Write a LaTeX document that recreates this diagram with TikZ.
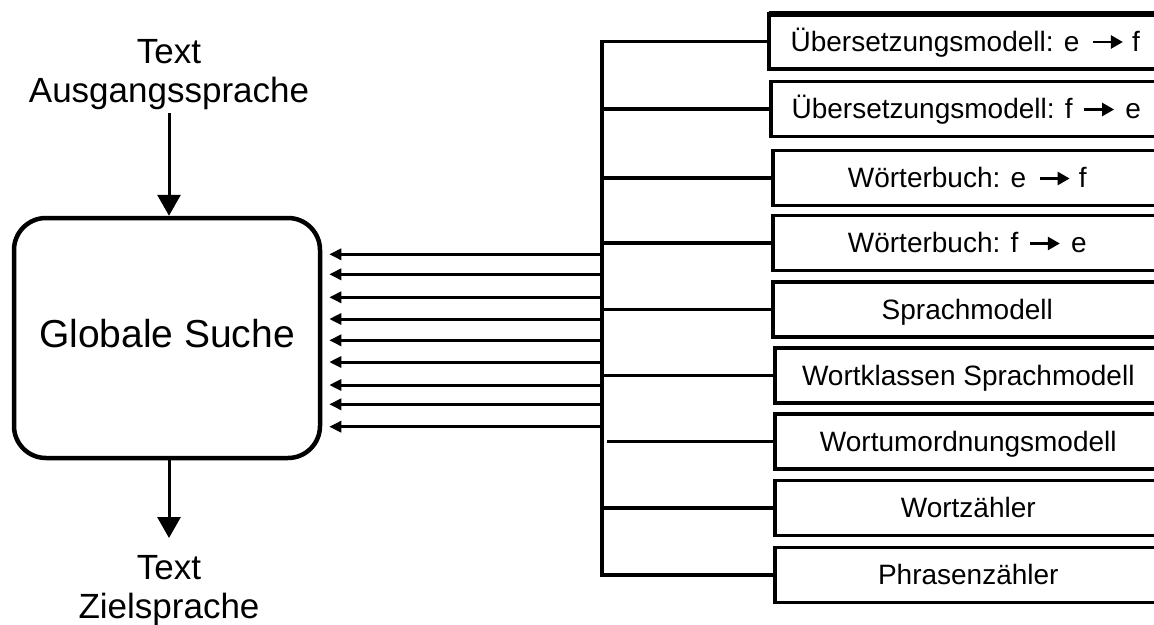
\documentclass[tikz,border=0pt]{standalone}
\usepackage{fontspec}
\setmainfont{Liberation Sans}
\usetikzlibrary{arrows.meta}

% small right arrow used inside the model labels, built once in a box
\newsavebox\modarrowbox
\sbox\modarrowbox{\tikz[x=1pt,y=1pt,baseline=-9pt]\draw[line width=2.6pt,-{Triangle[length=12pt,width=13pt]}] (0,0) -- (30,0);}
\newcommand\modarrow{\usebox\modarrowbox}

\begin{document}
\begin{tikzpicture}[x=1pt,y=-1pt,
  wire/.style={line width=3.8pt,line join=miter},
  bigarrow/.style={line width=3pt,-{Triangle[length=21pt,width=23pt]}},
  feed/.style={line width=3pt,-{Triangle[length=12pt,width=11pt]},shorten >=7pt},
  search/.style={draw,line width=4.5pt,rounded corners=32pt,minimum width=306pt,minimum height=240pt,
    inner sep=0pt,text depth=10pt,font=\fontsize{39}{45}\selectfont},
  iolabel/.style={align=center,font=\fontsize{35}{39}\selectfont},
  modbox/.style={anchor=west,minimum height=55pt,inner sep=0pt,outer sep=0pt,
    text height=25pt,text depth=6pt,font=\fontsize{28}{33}\selectfont},
  boxline/.style={line width=3.6pt,line join=miter}]

\useasboundingbox (0,0) rectangle (1154,624);
\coordinate (edge) at (1154,0);

% central search box with its input and output
\node[search] (gs) at (167,338) {Globale Suche};
\node[iolabel,anchor=south,inner sep=3pt] (src) at (169,113) {Text\\Ausgangssprache};
\node[iolabel,anchor=north,inner xsep=3pt,inner ysep=17pt] (dst) at (169,538) {Text\\Zielsprache};
\draw[bigarrow] (src.south) -- (src.south |- gs.north);
\draw[bigarrow] (dst.north |- gs.south) -- (dst.north);

% model boxes on the right; their right sides lie beyond the edge
\node[modbox,minimum width=393pt] (b1) at (768.8,41.5) {Übersetzungsmodell: e\hspace{12pt}\modarrow\hspace{8pt}f};
\node[modbox,minimum width=391pt] (b2) at (770.8,109) {Übersetzungsmodell: f\hspace{10pt}\modarrow\hspace{10pt}e};
\node[modbox,minimum width=389pt] (b3) at (772.8,178) {Wörterbuch: e\hspace{12pt}\modarrow\hspace{8pt}f};
\node[modbox,minimum width=389pt] (b4) at (772.8,243) {Wörterbuch: f\hspace{10pt}\modarrow\hspace{10pt}e};
\node[modbox,minimum width=389pt] (b5) at (772.8,309.5) {Sprachmodell};
\node[modbox,minimum width=387pt] (b6) at (774.8,375.5) {Wortklassen Sprachmodell};
\node[modbox,minimum width=387pt] (b7) at (774.8,441.5) {Wortumordnungsmodell};
\node[modbox,minimum width=387pt] (b8) at (774.8,508) {Wortzähler};
\node[modbox,minimum width=387pt] (b9) at (774.8,575) {Phrasenzähler};
\foreach \i in {1,...,9}
  \draw[boxline] (b\i.north -| edge) -- (b\i.north west) -- (b\i.south west) -- (b\i.south -| edge);
\draw[line width=5.5pt] (b1.north west) -- (b1.north -| edge);

% collecting bus
\coordinate (busx) at (602,0);
\draw[wire] (b1.west) -| (b9.west -| busx) -- (b9.west);
\foreach \i in {2,3,4,5,6,8}
  \draw[wire] (b\i.west -| busx) -- (b\i.west);
\draw[wire] ([xshift=5pt]b7.west -| busx) -- (b7.west);

% feeds from the bus into the search
\foreach \y [count=\k] in {254.3,274.3,297.3,319,340.3,362,385,404.3,426.7} {
  \coordinate (in\k) at (602,\y);
  \draw[feed] (in\k) -- (in\k -| gs.east);
}
\end{tikzpicture}
\end{document}
